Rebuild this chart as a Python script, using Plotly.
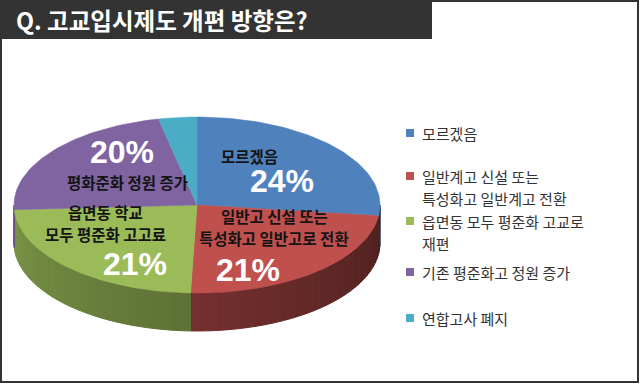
import numpy as np
import plotly.graph_objects as go

# ---------------- data ----------------
title_text = "Q. 고교입시제도 개편 방향은?"
legend_labels = [
    ["모르겠음"],
    ["일반계고 신설 또는", "특성화고 일반계고 전환"],
    ["읍면동 모두 평준화 고교로", "재편"],
    ["기존 평준화고 정원 증가"],
    ["연합고사 폐지"],
]
values = [24, 21, 21, 20, 3]
slice_labels = [["모르겠음"], ["일반고 신설 또는", "특성화고 일반고로 전환"],
                ["읍면동 학교", "모두 평준화 고고료"], ["평화준화 정원 증가"], []]
pct_labels = ["24%", "21%", "21%", "20%", ""]
colors = ["#4F81BD", "#C0504D", "#9BBB59", "#8064A2", "#4BACC6"]

# ---------------- geometry / style ----------------
W, H = 640, 384
CX, CY, RX, RY, DEPTH = 197, 205, 183, 88, 38
label_pos = [(249, 156), (274, 227), (105, 223), (127, 182), None]
pct_pos = [(282, 181), (248, 270), (135, 264), (122, 152), None]
legend_y = [133, 187, 232, 272, 318]
LBL_SIZE, LBL_GAP = 15.5, 22.5
LEG_SIZE, LEG_GAP = 15, 22
KFONT = "Noto Sans CJK KR"


def hex_rgb(h):
    h = h.lstrip("#")
    return tuple(int(h[i:i + 2], 16) for i in (0, 2, 4))


def shade(h, f):
    r, g, b = hex_rgb(h)
    return "rgb(%d,%d,%d)" % (r * f, g * f, b * f)


def pt(theta_deg, dy=0.0):
    t = np.radians(theta_deg)
    return CX + RX * np.sin(t), CY - RY * np.cos(t) + dy


fig = go.Figure()

total = float(sum(values))
bounds = np.concatenate([[0.0], np.cumsum(values) / total * 360.0])

# side walls (front half, 90..270 deg) drawn as thin shaded strips
for i, c in enumerate(colors):
    a, b = max(bounds[i], 90.0), min(bounds[i + 1], 270.0)
    if b <= a:
        continue
    n = max(1, int(np.ceil((b - a) / 3.0)))
    edges = np.linspace(a, b, n + 1)
    for j in range(n):
        t0, t1 = edges[j], edges[j + 1]
        ts = np.linspace(t0, t1, 4)
        xs_top, ys_top = pt(ts)
        xs_bot, ys_bot = pt(ts[::-1], DEPTH)
        xs = np.concatenate([xs_top, xs_bot, xs_top[:1]])
        ys = np.concatenate([ys_top, ys_bot, ys_top[:1]])
        mid = 0.5 * (t0 + t1)
        f = 0.40 + 0.40 * (mid - 90.0) / 180.0
        col = shade(c, f)
        fig.add_trace(go.Scatter(x=xs, y=ys, mode="lines", fill="toself",
                                 fillcolor=col, line=dict(color=col, width=1),
                                 hoverinfo="skip", showlegend=False))

# top faces
for i, c in enumerate(colors):
    ts = np.linspace(bounds[i], bounds[i + 1], max(3, int((bounds[i + 1] - bounds[i]) / 1.5)))
    xs, ys = pt(ts)
    xs = np.concatenate([[CX], xs, [CX]])
    ys = np.concatenate([[CY], ys, [CY]])
    fig.add_trace(go.Scatter(x=xs, y=ys, mode="lines", fill="toself",
                             fillcolor=c, line=dict(color=c, width=0.5),
                             hoverinfo="skip", showlegend=False, name=" ".join(legend_labels[i])))

annotations = []


def add_lines(lines, cx, cy, gap, **kw):
    n = len(lines)
    for k, line in enumerate(lines):
        yy = cy + (k - (n - 1) / 2.0) * gap
        annotations.append(dict(x=cx, y=yy, text=line, showarrow=False, yanchor="middle", **kw))


# slice labels
for i in range(len(values)):
    if label_pos[i] and slice_labels[i]:
        add_lines(["<b>%s</b>" % s for s in slice_labels[i]], label_pos[i][0], label_pos[i][1], LBL_GAP,
                  xanchor="center", font=dict(family=KFONT, size=LBL_SIZE, color="#141414"))
    if pct_pos[i] and pct_labels[i]:
        annotations.append(dict(x=pct_pos[i][0], y=pct_pos[i][1], text="<b>%s</b>" % pct_labels[i],
                                showarrow=False, xanchor="center", yanchor="middle",
                                font=dict(family="Liberation Sans, Arial", size=32, color="white")))

# legend
shapes = []
for i, lines in enumerate(legend_labels):
    yy = legend_y[i]
    first_line_y = yy - (len(lines) - 1) / 2.0 * LEG_GAP
    shapes.append(dict(type="rect", x0=406, x1=414, y0=first_line_y - 4, y1=first_line_y + 4,
                       fillcolor=colors[i], line=dict(width=0), xref="x", yref="y"))
    add_lines(lines, 420, yy, LEG_GAP, xanchor="left", align="left",
              font=dict(family=KFONT, size=LEG_SIZE, color="#333333"))

# title bar and frame
shapes.append(dict(type="rect", x0=0, x1=432, y0=0, y1=39, fillcolor="#333333",
                   line=dict(width=0), xref="x", yref="y", layer="below"))
shapes.append(dict(type="rect", x0=1, x1=638, y0=1, y1=382, fillcolor="rgba(0,0,0,0)",
                   line=dict(color="#333333", width=2), xref="x", yref="y"))
annotations.append(dict(x=14, y=20, text="<b>%s</b>" % title_text, showarrow=False, xanchor="left",
                        yanchor="middle", font=dict(family=KFONT, size=23.5, color="white")))

fig.update_layout(
    width=W, height=H, margin=dict(l=0, r=0, t=0, b=0),
    paper_bgcolor="white", plot_bgcolor="white",
    xaxis=dict(range=[0, W], visible=False, fixedrange=True),
    yaxis=dict(range=[H, 0], visible=False, fixedrange=True),
    shapes=shapes, annotations=annotations, showlegend=False,
)

fig.write_html("out.html", config={"displayModeBar": False},
               post_script="document.body.style.margin='0';document.body.style.overflow='hidden';")
